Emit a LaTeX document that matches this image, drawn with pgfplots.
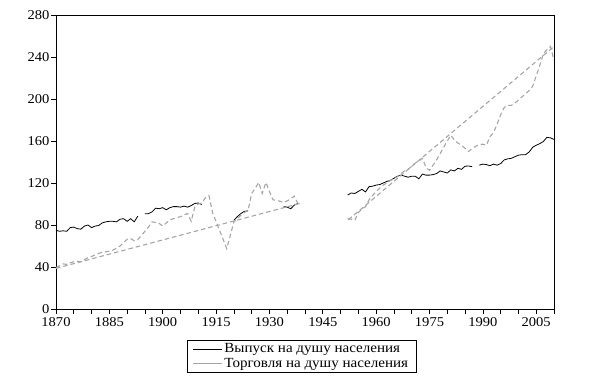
\documentclass[border=0pt]{standalone}
\usepackage{fontspec}
\setmainfont[FakeStretch=1.08]{Liberation Serif}
\usepackage{pgfplots}
\pgfplotsset{compat=1.18}
\definecolor{trgray}{RGB}{165,165,165}
\begin{document}
\begin{tikzpicture}
\useasboundingbox (-56bp,-72bp) rectangle (538bp,309bp);
\begin{axis}[
  at={(0,0)}, anchor=south west,
  width=498bp, height=294bp, scale only axis,
  xmin=1870, xmax=2010, ymin=0, ymax=280,
  xtick={1870,1885,...,2005},
  minor xtick={1870,1875,...,2010},
  ytick={0,40,...,280},
  tick align=outside, tick pos=left,
  major tick length=4.5bp, minor tick length=4.5bp,
  every tick/.style={black, line width=0.6pt},
  axis line style={line width=0.7pt},
  /pgf/number format/assume math mode=true,
  /pgf/number format/1000 sep={},
  tick label style={font=\fontsize{13.5}{15}\selectfont},
  xticklabel style={inner sep=3.5pt},
  yticklabel style={inner sep=2pt},
  unbounded coords=jump,
  legend style={at={(0.493,-0.104)}, anchor=north, draw=black, line width=0.6pt,
    font=\fontsize{14}{16}\selectfont, row sep=1.5pt, inner xsep=6pt, inner ysep=2.5pt,
    nodes={inner ysep=1.2pt}},
  legend cell align=left,
]
\addplot[black, line width=0.8pt,
  legend image code/.code={\draw[black, solid, line width=0.6pt] (0bp,0bp) -- (29bp,0bp);}]
table[row sep=\\]{
x y\\
1870 75\\ 1871 74\\ 1872 74.5\\ 1873 74\\ 1874 77.5\\ 1875 78\\ 1876 76.5\\ 1877 76\\
1878 79\\ 1879 80\\ 1880 77.5\\ 1881 79\\ 1882 79.5\\ 1883 82\\ 1884 83\\ 1885 83.5\\
1886 83.5\\ 1887 83\\ 1888 85.5\\ 1889 86\\ 1890 83.5\\ 1891 86\\ 1892 83\\ 1893 88.5\\
1894 nan\\
1895 90.8\\ 1896 90.8\\ 1897 92.5\\ 1898 96\\ 1899 95.5\\ 1900 96.5\\ 1901 94.5\\ 1902 96.5\\
1903 97.5\\ 1904 97.5\\ 1905 97\\ 1906 98\\ 1907 97\\ 1908 98.5\\ 1909 100.5\\ 1910 101\\ 1911 99.5\\
1912 nan\\
1920 84.5\\ 1921 88\\ 1922 91\\ 1923 93\\ 1924 93.5\\
1925 nan\\
1934 97.5\\ 1935 97\\ 1936 95.5\\ 1937 99\\ 1938 100.5\\
1939 nan\\
1952 108.5\\ 1953 110.5\\ 1954 110\\ 1955 112\\ 1956 114\\ 1957 111.5\\ 1958 116.5\\ 1959 117\\
1960 118\\ 1961 118.5\\ 1962 120\\ 1963 121.5\\ 1964 122.5\\ 1965 124.5\\ 1966 126.5\\ 1967 127.5\\
1968 126.5\\ 1969 125.5\\ 1970 126.5\\ 1971 126.5\\ 1972 124\\ 1973 128.5\\ 1974 127.5\\ 1975 127.5\\
1976 128\\ 1977 129\\ 1978 131.5\\ 1979 130.5\\ 1980 129.5\\ 1981 132.5\\ 1982 131.5\\ 1983 134\\
1984 133\\ 1985 136\\ 1986 136.2\\ 1987 135.5\\
1988 nan\\
1989 137\\ 1990 138\\ 1991 137.5\\ 1992 136.5\\ 1993 138\\ 1994 137\\ 1995 138.5\\ 1996 142\\
1997 143\\ 1998 143.5\\ 1999 145\\ 2000 146.5\\ 2001 147\\ 2002 147\\ 2003 149.5\\ 2004 154\\
2005 156\\ 2006 157.5\\ 2007 159.5\\ 2008 163.5\\ 2009 163\\ 2010 161.5\\
};
\addlegendentry{Выпуск на душу населения}
\addplot[trgray, line width=1.1pt, dash pattern=on 4.5bp off 3bp,
  legend image code/.code={\draw[trgray, solid, line width=0.6pt] (0bp,0bp) -- (29bp,0bp);}]
table[row sep=\\]{
x y\\
1870 39.5\\ 1871 41\\ 1872 43\\ 1873 42.5\\ 1874 44\\ 1875 45\\ 1876 45.5\\ 1877 45\\ 1878 47\\
1879 49\\ 1880 50\\ 1881 51.5\\ 1882 53\\ 1883 54\\ 1884 54.5\\ 1885 55\\ 1886 56\\ 1887 58\\
1888 60\\ 1889 63\\ 1890 66.5\\ 1891 67\\ 1892 65\\ 1893 66\\ 1894 70\\ 1895 74\\ 1896 78\\
1897 83\\ 1898 82.5\\ 1899 81.5\\ 1900 79\\ 1901 82\\ 1902 85\\ 1903 86\\ 1904 87\\ 1905 88\\
1906 89.5\\ 1907 91\\ 1908 83.5\\ 1909 97\\ 1910 100\\ 1911 101\\ 1912 106\\ 1913 108\\
1914 92\\ 1918 57.5\\ 1919 70\\ 1920 83\\ 1921 86\\ 1922 89.5\\ 1923 92\\ 1924 94\\ 1925 110\\
1926 115\\ 1927 120.5\\ 1928 110\\ 1929 120.5\\ 1930 112\\ 1931 104\\ 1932 103.5\\ 1933 102.5\\
1934 101.5\\ 1935 103\\ 1936 105\\ 1937 107.5\\ 1938 100.5\\
1939 nan\\
1952 86\\ 1953 85.5\\ 1954 84.5\\ 1955 92\\ 1956 95\\ 1957 97.5\\ 1958 104\\ 1959 108\\ 1960 112\\
1961 115\\ 1962 118\\ 1963 120\\ 1964 122.5\\ 1965 124\\ 1966 126\\ 1967 129\\ 1968 131.5\\
1969 133\\ 1970 136\\ 1971 139\\ 1972 141\\ 1973 143.5\\ 1974 135\\ 1975 132\\ 1976 137\\
1977 142\\ 1978 148\\ 1979 154\\ 1980 160\\ 1981 165.5\\ 1982 161\\ 1983 158\\ 1984 156\\
1985 153\\ 1986 150\\ 1987 153\\ 1988 155\\ 1989 156.5\\ 1990 157\\ 1991 156\\ 1992 164\\
1993 168\\ 1994 176\\ 1995 185\\ 1996 192\\ 1997 194\\ 1998 194\\ 1999 196\\ 2000 199\\
2001 202\\ 2002 205\\ 2003 208\\ 2004 212\\ 2005 222\\ 2006 232\\ 2007 243\\ 2008 247\\
2009 250\\ 2010 237\\
};
\addlegendentry{Торговля на душу населения\hspace{12pt}}
\addplot[trgray, line width=1.1pt, dash pattern=on 4.5bp off 3bp, forget plot]
table[row sep=\\]{
x y\\
1870 38.7\\ 1938.6 100.6\\ 1939 nan\\ 1952.2 85\\ 2010 250\\
};
\end{axis}
\end{tikzpicture}
\end{document}
